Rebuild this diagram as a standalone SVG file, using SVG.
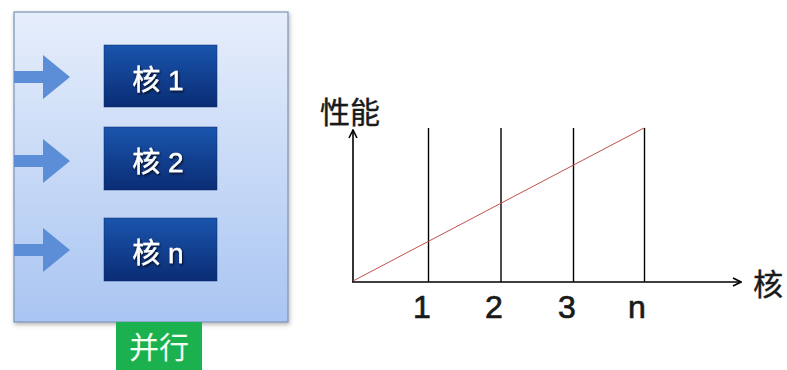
<svg xmlns="http://www.w3.org/2000/svg" width="787" height="370" viewBox="0 0 787 370">
<defs>
<linearGradient id="panelG" x1="0" y1="0" x2="0" y2="1">
<stop offset="0" stop-color="#e6eefb"/>
<stop offset="1" stop-color="#a9c5f2"/>
</linearGradient>
<linearGradient id="coreG" x1="0" y1="0" x2="0" y2="1">
<stop offset="0" stop-color="#1a55ad"/>
<stop offset="1" stop-color="#0a2c74"/>
</linearGradient>
<filter id="sh" x="-10%" y="-10%" width="125%" height="125%">
<feDropShadow dx="1" dy="2" stdDeviation="2" flood-color="#000" flood-opacity="0.3"/>
</filter>
<filter id="tsh" x="-10%" y="-10%" width="130%" height="130%">
<feDropShadow dx="1" dy="1.5" stdDeviation="0.8" flood-color="#000" flood-opacity="0.8"/>
</filter>
<marker id="ah" viewBox="0 0 10 10" refX="9" refY="5" markerWidth="10" markerHeight="10" markerUnits="userSpaceOnUse" orient="auto">
<path d="M1,1 L9,5 L1,9" fill="none" stroke="#000" stroke-width="1.6"/>
</marker>
<path id="bigArrow" d="M0,-6 L29,-6 L29,-22 L56,0 L29,22 L29,6 L0,6 Z"/>
</defs>
<style>
.core{fill:url(#coreG);stroke:#0a2a6a;stroke-width:0.5}
.ct{font-family:"Liberation Sans","Noto Sans CJK SC",sans-serif;font-size:28px;fill:#fff;stroke:#fff;stroke-width:0.4;text-anchor:middle;filter:url(#tsh)}
.ax{stroke:#000;stroke-width:1.6;fill:none}
.vl{stroke:#000;stroke-width:1.4}
.lb{font-family:"Liberation Sans","Noto Sans CJK SC",sans-serif;font-size:32px;fill:#1a1a1a;stroke:#1a1a1a;stroke-width:0.7;text-anchor:middle}
.cj{font-family:"Noto Sans CJK SC",sans-serif;font-size:30px;fill:#1a1a1a;stroke:#1a1a1a;stroke-width:0.4;text-anchor:middle}
.arr{fill:#5b8ed6}
</style>
<g id="panel">
<rect x="14" y="12" width="274" height="310" fill="url(#panelG)" stroke="#7c93b4" stroke-width="1.2" filter="url(#sh)"/>
</g>
<g id="arrows">
<use href="#bigArrow" class="arr" x="14" y="77"/>
<use href="#bigArrow" class="arr" x="14" y="161"/>
<use href="#bigArrow" class="arr" x="14" y="250"/>
</g>
<g id="core1">
<rect class="core" x="104" y="45" width="113" height="62"/>
<text class="ct" x="158" y="90">核 1</text>
</g>
<g id="core2">
<rect class="core" x="104" y="127" width="113" height="63"/>
<text class="ct" x="158" y="172">核 2</text>
</g>
<g id="coren">
<rect class="core" x="104" y="218" width="113" height="63"/>
<text class="ct" x="158" y="263">核 n</text>
</g>
<g id="parallel">
<rect x="116" y="322" width="86" height="48" fill="#1bb14e"/>
<text x="159" y="358" font-family="'Noto Sans CJK SC',sans-serif" font-size="30" fill="#f4fff4" text-anchor="middle">并行</text>
</g>
<g id="chart">
<line class="ax" x1="353" y1="282" x2="353" y2="130" marker-end="url(#ah)"/>
<line class="ax" x1="352" y1="282" x2="741" y2="282" marker-end="url(#ah)"/>
<line class="vl" x1="428.5" y1="128" x2="428.5" y2="282"/>
<line class="vl" x1="501" y1="128" x2="501" y2="282"/>
<line class="vl" x1="573.5" y1="128" x2="573.5" y2="282"/>
<line class="vl" x1="644.5" y1="128" x2="644.5" y2="282"/>
<line x1="353" y1="281" x2="644" y2="128" stroke="#c0504d" stroke-width="1"/>
<text class="lb" x="422" y="318">1</text>
<text class="lb" x="494" y="318">2</text>
<text class="lb" x="567" y="318">3</text>
<text class="lb" x="637" y="318">n</text>
<text class="cj" x="350" y="123">性能</text>
<text class="cj" x="768" y="295">核</text>
</g>
</svg>
